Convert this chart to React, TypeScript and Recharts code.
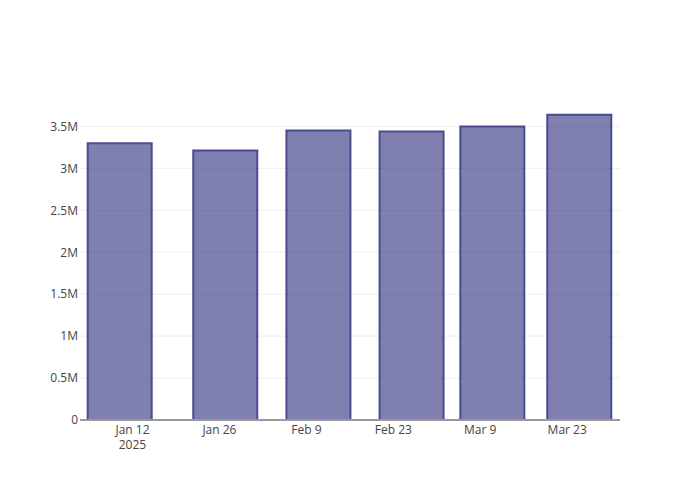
import { Bar, BarChart, CartesianGrid, XAxis, YAxis } from "recharts";

const barDates = ["2025-01-10", "2025-01-27", "2025-02-11", "2025-02-26", "2025-03-11", "2025-03-25"];
const barValues = [3298000, 3214000, 3450000, 3440000, 3500000, 3638000];
const xTickDates = ["2025-01-12", "2025-01-26", "2025-02-09", "2025-02-23", "2025-03-09", "2025-03-23"];
const yTicks = [0, 500000, 1000000, 1500000, 2000000, 2500000, 3000000, 3500000];

const DAY = 86400000;
const BASE = Date.UTC(2025, 0, 1);
const MONTHS = ["Jan", "Feb", "Mar", "Apr", "May", "Jun", "Jul", "Aug", "Sep", "Oct", "Nov", "Dec"];

const toDay = (s: string) => {
  const [y, m, d] = s.split("-").map(Number);
  return (Date.UTC(y, m - 1, d) - BASE) / DAY;
};

const data = barDates.map((d, i) => ({ day: toDay(d), value: barValues[i] }));
const xTicks = xTickDates.map(toDay);

const formatY = (v: number) => (v === 0 ? "0" : `${v / 1000000}M`);

function XTick(props: any) {
  const { x, y, payload, index } = props;
  const dt = new Date(BASE + payload.value * DAY);
  const label = `${MONTHS[dt.getUTCMonth()]} ${dt.getUTCDate()}`;
  return (
    <text x={x} y={y} textAnchor="middle" fill="#444" fontSize={12} fontFamily="'Open Sans', sans-serif">
      <tspan x={x} dy="0.71em">{label}</tspan>
      {index === 0 ? (
        <tspan x={x} dy="1.33em">{dt.getUTCFullYear()}</tspan>
      ) : null}
    </text>
  );
}

export default function App() {
  return (
    <div style={{ position: "fixed", left: 0, top: 0, width: 700, height: 500, background: "#fff" }}>
      <BarChart
        width={700}
        height={500}
        data={data}
        margin={{ top: 100, right: 80, bottom: 50, left: 0 }}
      >
        <CartesianGrid vertical={false} stroke="#eeeeee" strokeWidth={1} horizontalValues={yTicks.slice(1)} />
        <XAxis
          dataKey="day"
          type="number"
          domain={[2.55, 89.5]}
          ticks={xTicks}
          allowDataOverflow
          tick={<XTick />}
          tickSize={0}
          tickMargin={5}
          height={30}
          axisLine={{ stroke: "#999", strokeWidth: 2 }}
          tickLine={false}
          interval={0}
        />
        <YAxis
          type="number"
          domain={[0, 3815000]}
          ticks={yTicks}
          allowDataOverflow
          tickFormatter={formatY}
          width={80}
          tickSize={0}
          tickMargin={2}
          axisLine={false}
          tickLine={false}
          tick={{ fill: "#444", fontSize: 12, fontFamily: "'Open Sans', sans-serif" }}
        />
        <Bar
          dataKey="value"
          barSize={64}
          fill="rgb(42,42,123)"
          fillOpacity={0.6}
          stroke="#4b4b8f"
          strokeWidth={2}
          isAnimationActive={false}
        />
      </BarChart>
    </div>
  );
}
